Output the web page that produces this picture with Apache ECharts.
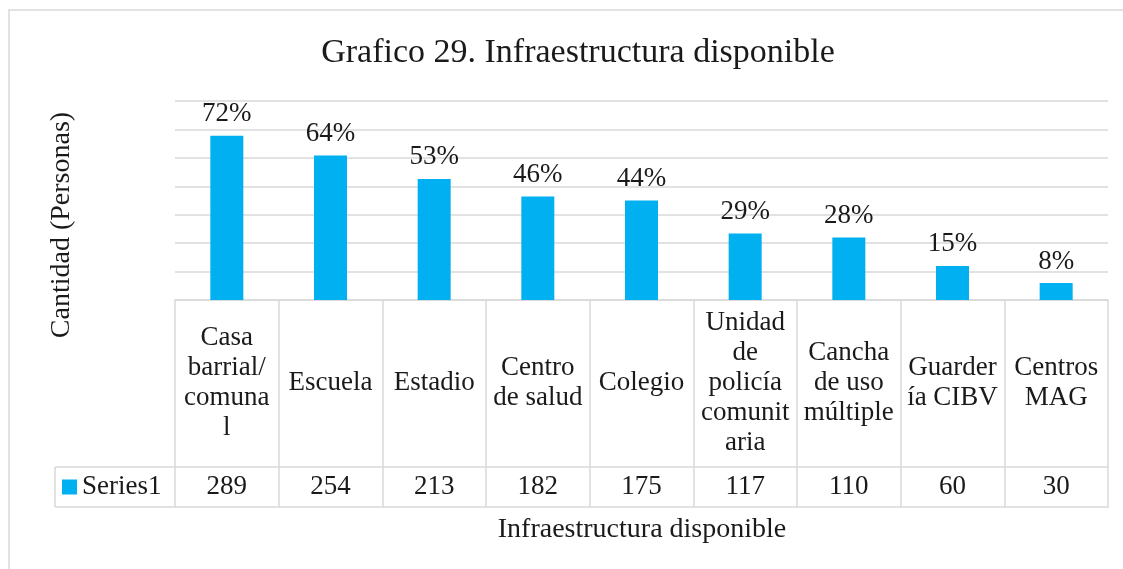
<!DOCTYPE html>
<html>
<head>
<meta charset="utf-8">
<script src="https://cdn.jsdelivr.net/npm/echarts@6/dist/echarts.min.js"></script>
<style>
  html, body { margin: 0; padding: 0; background: #fff; }
  #chart { width: 1123px; height: 569px; }
</style>
</head>
<body>
<div id="chart"></div>
<script>
// categories (wrapped the way the data table shows them)
var categories = [
  'Casa\nbarrial/\ncomuna\nl', 'Escuela', 'Estadio', 'Centro\nde salud', 'Colegio',
  'Unidad\nde\npolicía\ncomunit\naria', 'Cancha\nde uso\nmúltiple', 'Guarder\nía CIBV', 'Centros\nMAG'
];
var values = [289, 254, 213, 182, 175, 117, 110, 60, 30];
var percents = ['72%', '64%', '53%', '46%', '44%', '29%', '28%', '15%', '8%'];
var seriesName = 'Series1';

var FONT = 'Liberation Serif';
var TXT = '#1a1a1a';
var LINE = '#d9d9d9';

var chart = echarts.init(document.getElementById('chart'));

var option = {
  animation: false,
  title: {
    text: 'Grafico 29. Infraestructura disponible',
    left: 573,
    top: 31,
    textAlign: 'center',
    textStyle: { fontFamily: FONT, fontSize: 34, fontWeight: 'normal', color: TXT }
  },
  legend: {
    data: [seriesName],
    left: 62,
    top: 472,
    padding: 0,
    icon: 'rect',
    itemWidth: 15,
    itemHeight: 15,
    itemGap: 6,
    selectedMode: false,
    textStyle: { fontFamily: FONT, fontSize: 27, color: TXT, lineHeight: 30 }
  },
  grid: { left: 175, right: 15, top: 101, bottom: 269, containLabel: false },
  xAxis: [
    {
      type: 'category',
      data: categories,
      position: 'bottom',
      axisLine: { show: true, lineStyle: { color: LINE, width: 1.5 } },
      axisTick: { show: true, interval: 0, length: 207, lineStyle: { color: LINE, width: 1.5 } },
      axisLabel: {
        interval: 0,
        margin: 83,
        verticalAlign: 'middle',
        fontFamily: FONT, fontSize: 27, lineHeight: 30, color: TXT
      }
    },
    {
      type: 'category',
      data: categories,
      position: 'bottom',
      offset: 167,
      axisLine: { show: true, lineStyle: { color: LINE, width: 1.5 } },
      axisTick: { show: false },
      axisLabel: {
        interval: 0,
        margin: 20,
        verticalAlign: 'middle',
        fontFamily: FONT, fontSize: 27, color: TXT,
        formatter: function (v, i) { return String(values[i]); }
      }
    },
    {
      type: 'category',
      data: categories,
      position: 'bottom',
      offset: 207,
      axisLine: { show: true, lineStyle: { color: LINE, width: 1.5 } },
      axisTick: { show: false },
      axisLabel: { show: false }
    }
  ],
  yAxis: {
    type: 'value',
    min: 0,
    max: 350,
    interval: 50,
    axisLine: { show: false },
    axisTick: { show: false },
    axisLabel: { show: false },
    splitLine: { lineStyle: { color: LINE, width: 1.5 } }
  },
  series: [{
    name: seriesName,
    type: 'bar',
    xAxisIndex: 0,
    data: values,
    barWidth: 33,
    itemStyle: { color: '#00B0F0' },
    label: {
      show: true,
      position: 'top',
      distance: 8,
      fontFamily: FONT, fontSize: 27, color: TXT,
      formatter: function (p) { return percents[p.dataIndex]; }
    }
  }],
  graphic: [
    { type: 'rect', silent: true, shape: { x: 9, y: 10, width: 1200, height: 600 },
      style: { fill: 'none', stroke: LINE, lineWidth: 1.5 } },
    { type: 'line', silent: true, shape: { x1: 55, y1: 467, x2: 175, y2: 467 },
      style: { stroke: LINE, lineWidth: 1.5 } },
    { type: 'line', silent: true, shape: { x1: 55, y1: 507, x2: 175, y2: 507 },
      style: { stroke: LINE, lineWidth: 1.5 } },
    { type: 'line', silent: true, shape: { x1: 55, y1: 467, x2: 55, y2: 507 },
      style: { stroke: LINE, lineWidth: 1.5 } },
    { type: 'text', silent: true, x: 62, y: 225, rotation: Math.PI / 2,
      style: { text: 'Cantidad (Personas)', fontFamily: FONT, fontSize: 28, fill: TXT,
               textAlign: 'center', textVerticalAlign: 'middle' } },
    { type: 'text', silent: true, x: 642, y: 530,
      style: { text: 'Infraestructura disponible', fontFamily: FONT, fontSize: 28, fill: TXT,
               textAlign: 'center', textVerticalAlign: 'middle' } }
  ]
};

chart.setOption(option);
</script>
</body>
</html>
